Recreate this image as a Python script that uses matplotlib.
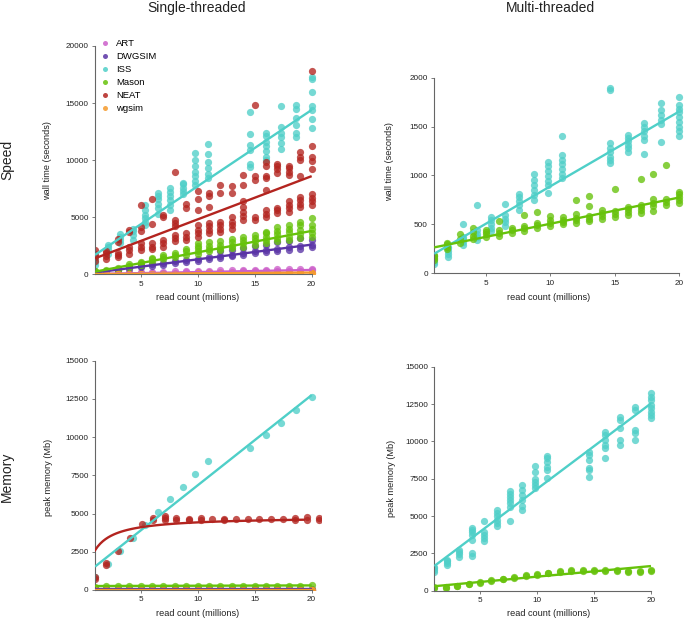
import numpy as np
import matplotlib
matplotlib.use('Agg')
import matplotlib.pyplot as plt
from matplotlib.lines import Line2D

plt.rcParams['font.family'] = ['Liberation Sans', 'DejaVu Sans']

# ---- data ----
tools = ['ART', 'DWGSIM', 'ISS', 'Mason', 'NEAT', 'wgsim']
colors = {'ART': '#cc5fca', 'DWGSIM': '#5a34a6', 'ISS': '#4fcfc8',
          'Mason': '#66c20a', 'NEAT': '#b3241f', 'wgsim': '#f59a2c'}

x_int = list(range(1, 21))
x_iss = [1.0, 2.1, 3.2, 4.3, 5.4, 6.5, 7.6, 8.7, 9.8, 10.9, 14.6, 16.0, 17.3, 18.6, 20.0]
x_neat_mem = [1, 2, 3, 4.1, 5.1, 6.1, 7.1, 8.1, 9.2, 10.3, 11.3, 12.3, 13.4, 14.4,
              15.4, 16.4, 17.5, 18.5, 19.6, 20.6]

# single-threaded wall time (seconds)
st_speed_art = [[20, 60], [40, 100], [60, 130], [80, 150], [100, 180], [120, 200],
                [130, 220], [150, 250], [160, 270], [180, 300], [200, 320], [220, 340],
                [230, 360], [250, 380], [260, 400], [280, 420], [300, 440], [310, 460],
                [330, 480], [350, 500]]
st_speed_dwgsim = [[100, 150], [250, 300], [350, 450], [500, 600], [600, 750], [750, 900],
                   [850, 1000], [1000, 1150], [1100, 1250], [1200, 1350], [1350, 1500],
                   [1450, 1600, 2000], [1600, 1700, 2100], [1700, 1850, 2300],
                   [1850, 2000, 2500], [1950, 2100, 2600], [2050, 2200, 2800],
                   [2150, 2350, 2900], [2250, 2450, 3200], [2400, 2600, 3000]]
st_speed_iss = [[800, 1100, 1300, 1600], [1800, 2100, 2400, 2600], [2700, 3000, 3300, 3500],
                [3000, 3400, 3800, 4000], [4300, 4600, 4900, 5200, 5600, 6100],
                [5300, 5800, 6200, 6600, 6900, 7100], [5600, 6100, 6500, 6900, 7200, 7600],
                [7000, 7300, 7600, 7900, 8000], [7800, 8200, 8600, 9000, 9500, 10000, 10600],
                [8400, 8800, 9300, 9800, 10500, 11400], [9400, 9700, 10900, 11300, 12300, 14200],
                [10000, 10300, 10800, 11200, 11600, 12100, 12400],
                [11000, 11500, 12000, 12400, 12900, 14700],
                [12000, 12400, 13100, 13700, 14500, 14850],
                [12800, 13600, 14400, 14700, 16000, 17100, 17300]]
st_speed_mason = [[150, 250, 300], [300, 400], [400, 550], [600, 700, 900], [800, 1000, 1100],
                  [1100, 1300, 1400], [1300, 1500, 1700], [1500, 1700, 1900],
                  [1700, 2000, 2200], [1800, 2000, 2300, 2500, 2700], [2000, 2200, 2500, 2800],
                  [2100, 2300, 2600, 2900], [2300, 2500, 2800, 3100], [2400, 2700, 3000, 3300],
                  [2600, 2900, 3200, 3400], [2700, 3000, 3300, 3600, 3700],
                  [2900, 3200, 3500, 3800, 4100], [3000, 3300, 3700, 4000, 4300],
                  [3200, 3500, 3900, 4300, 4600], [3300, 3600, 4000, 4300, 4900]]
st_speed_neat = [[1200, 1500, 1800, 2100], [1300, 1600, 1900, 2000],
                 [1500, 1700, 1900, 2800, 3100], [1800, 2100, 2400, 3700, 3900],
                 [2100, 2400, 2700, 3800, 4100, 6100], [2200, 2400, 2700, 4400, 6600],
                 [2400, 2700, 3000, 5000, 5200], [2900, 3200, 3400, 4200, 4500, 4800, 9000],
                 [3000, 3300, 3600, 5800, 6200], [3300, 3600, 3900, 4300, 5600, 6600, 7300],
                 [3600, 3900, 4200, 4500, 5900, 6900, 7100], [3700, 4000, 4300, 4600, 7100, 7800],
                 [4000, 4300, 4600, 5000, 7100, 7700],
                 [4800, 5100, 5500, 5900, 6400, 7800, 8700], [4800, 5000, 8300, 8600, 14800],
                 [5000, 5300, 5600, 7400, 8400, 8600, 9500, 9800],
                 [5400, 5600, 5800, 8900, 9200, 9500, 9700],
                 [5500, 5800, 6100, 6400, 8700, 9000, 9300, 9500],
                 [5900, 6200, 6500, 6800, 8600, 10000, 10300, 10700],
                 [6100, 6400, 6700, 7000, 9200, 9900, 10300, 11200, 17800]]
st_speed_wgsim = [[10, 30], [15, 35], [20, 40], [25, 45], [30, 50], [35, 55], [40, 60],
                  [45, 65], [50, 70], [55, 75], [60, 80], [65, 85], [70, 90], [75, 95],
                  [80, 100], [85, 110], [90, 120], [95, 130], [100, 140], [110, 150]]

# multi-threaded wall time (seconds)
mt_speed_iss = [[100, 120, 150, 180], [170, 200, 230, 260, 270], [290, 320, 350, 370, 500],
                [340, 370, 400, 440, 700], [430, 460, 500, 540, 580],
                [480, 520, 560, 600, 710], [650, 700, 740, 780, 810],
                [750, 800, 850, 900, 950, 1020], [820, 900, 940, 990, 1050, 1100, 1140],
                [970, 1020, 1070, 1120, 1160, 1210, 1400],
                [1130, 1160, 1190, 1240, 1280, 1330, 1870, 1890],
                [1240, 1280, 1310, 1350, 1380, 1410], [1220, 1360, 1400, 1450, 1500, 1540],
                [1345, 1530, 1570, 1620, 1670, 1745],
                [1400, 1450, 1500, 1550, 1600, 1650, 1680, 1720, 1800]]
mt_speed_mason = [[140, 160, 180, 190], [250, 270, 300, 310], [310, 350, 400],
                  [350, 380, 420, 460], [370, 400, 420, 440], [380, 410, 440, 530],
                  [410, 440, 460], [430, 460, 480, 600], [460, 490, 510, 630],
                  [480, 510, 540, 590], [500, 520, 550, 580], [510, 540, 570, 610, 750],
                  [530, 560, 590, 690, 790], [560, 590, 620, 650], [580, 610, 640, 860],
                  [600, 630, 660, 680], [620, 650, 680, 700, 960], [640, 690, 720, 760, 1015],
                  [700, 730, 760, 1110], [720, 750, 780, 810, 830]]

# single-threaded peak memory (Mb)
st_mem_art = [[5, 20]] * 20
st_mem_dwgsim = [[30, 40]] * 20
st_mem_iss = [[850], [1700], [2550], [3400], [4250], [5080], [5930], [6760], [7590], [8440],
              [9270], [10120], [10940], [11770], [12640]]
st_mem_mason = [[220], [230], [230], [240], [240], [240], [240], [250], [250], [250],
                [250], [260], [260], [260], [270], [270], [280], [280], [290], [300]]
st_mem_neat = [[700, 850], [1650, 1750], [2570], [3420], [4290], [4600, 4700],
               [4550, 4700, 4850], [4550, 4700], [4600, 4650], [4600, 4700], [4640],
               [4600, 4650], [4620], [4620], [4620], [4620], [4620], [4600, 4700],
               [4600, 4800], [4550, 4700]]
st_mem_wgsim = [[5, 10]] * 20

# multi-threaded peak memory (Mb)
mt_mem_iss = [[1270, 1400, 1550, 1600], [1720, 1850, 1980, 2050], [2280, 2450, 2600, 2720],
              [2350, 2500, 3400, 3700, 3900, 4050, 4200], [3300, 3500, 3700, 3950, 4670],
              [4300, 4550, 4750, 5000, 5200, 5400], [4700, 5600, 5850, 6100, 6300, 6500, 6670],
              [5400, 5700, 6100, 6400, 6750, 7100], [6850, 7100, 7300, 7500, 7950, 8350],
              [7520, 8080, 8300, 8640, 8860, 9020], [7630, 8080, 8190, 8750, 9080, 9310],
              [8860, 9530, 9750, 10090, 10420, 10650], [9750, 10090, 10870, 11430, 11600],
              [10090, 10540, 10760, 12100, 12320],
              [11540, 11760, 11990, 12210, 12430, 12770, 12990, 13260]]
mt_mem_mason = [[180, 220], [200, 240], [290, 320], [430, 470], [540, 580], [680, 720],
                [760, 800], [860, 900], [980, 1020], [1080, 1120], [1160, 1200],
                [1260, 1320], [1320, 1370], [1340, 1400], [1340, 1400], [1320, 1380],
                [1300, 1360], [1240, 1310], [1260, 1330], [1300, 1380]]

# trend lines: value at read count 1 and at 20
st_speed_trend = {'ART': (30, 380), 'DWGSIM': (150, 2600), 'ISS': (1700, 14400),
                  'Mason': (230, 3800), 'NEAT': (1400, 8600), 'wgsim': (20, 150)}
mt_speed_trend = {'ISS': (200, 1655), 'Mason': (265, 775)}
st_mem_trend = {'ART': (10, 10), 'DWGSIM': (40, 40), 'ISS': (1530, 12750),
                'Mason': (260, 300), 'wgsim': (5, 5)}
mt_mem_trend = {'ISS': (1650, 12540), 'Mason': (300, 1650)}
# NEAT memory saturating fit: vmax * x / (k + x)
neat_mem_vmax, neat_mem_k, neat_mem_xmax = 4800, 0.85, 19.3


def flat(xs, groups):
    px, py = [], []
    for x, g in zip(xs, groups):
        px += [x] * len(g)
        py += list(g)
    return px, py


def style(ax, ymax, yticks):
    ax.set_xlim(1, 20.8)
    ax.set_ylim(0, ymax)
    ax.set_xticks([5, 10, 15, 20])
    ax.set_yticks(yticks)
    ax.set_yticklabels([str(t) for t in yticks])
    for s in ['top', 'right']:
        ax.spines[s].set_visible(False)
    for s in ['left', 'bottom']:
        ax.spines[s].set_color('#666666')
        ax.spines[s].set_linewidth(0.8)
    ax.spines['bottom'].set_bounds(1, 20)
    ax.spines['left'].set_bounds(0, ymax)
    ax.tick_params(labelsize=5.9, length=2.5, width=0.6, pad=2,
                   color='#666666', labelcolor='#222222')


def draw(ax, series, trends):
    for name, xs, groups in series:
        px, py = flat(xs, groups)
        ax.scatter(px, py, s=27, color=colors[name], alpha=0.78, linewidths=0, zorder=2)
    xx = np.linspace(1, 20, 50)
    for name in tools:
        if name in trends:
            a, b = trends[name]
            ax.plot(xx, a + (b - a) * (xx - 1) / 19, color=colors[name], lw=1.7,
                    solid_capstyle='butt', zorder=3)


W, H = 685, 619
fig = plt.figure(figsize=(W / 100, H / 100), dpi=100)


def box(x0, x1, ytop, ybot):
    return [x0 / W, 1 - ybot / H, (x1 - x0) / W, (ybot - ytop) / H]


ax_tl = fig.add_axes(box(95, 320.8, 46, 274.3))
ax_tr = fig.add_axes(box(434.2, 689.6, 77.7, 273.3))
ax_bl = fig.add_axes(box(95, 320.8, 360.7, 590))
ax_br = fig.add_axes(box(434.3, 660.1, 366.7, 590.7))

draw(ax_tl, [('ART', x_int, st_speed_art), ('DWGSIM', x_int, st_speed_dwgsim),
             ('ISS', x_iss, st_speed_iss), ('Mason', x_int, st_speed_mason),
             ('NEAT', x_int, st_speed_neat), ('wgsim', x_int, st_speed_wgsim)],
     st_speed_trend)
draw(ax_tr, [('ISS', x_iss, mt_speed_iss), ('Mason', x_int, mt_speed_mason)],
     mt_speed_trend)
draw(ax_bl, [('ART', x_int, st_mem_art), ('DWGSIM', x_int, st_mem_dwgsim),
             ('ISS', x_iss, st_mem_iss), ('Mason', x_int, st_mem_mason),
             ('NEAT', x_neat_mem, st_mem_neat), ('wgsim', x_int, st_mem_wgsim)],
     st_mem_trend)
xn = np.linspace(1, neat_mem_xmax, 80)
ax_bl.plot(xn, neat_mem_vmax * xn / (neat_mem_k + xn), color=colors['NEAT'], lw=1.7, zorder=3)
draw(ax_br, [('ISS', x_iss, mt_mem_iss), ('Mason', x_int, mt_mem_mason)], mt_mem_trend)

style(ax_tl, 20000, [0, 5000, 10000, 15000, 20000])
style(ax_tr, 2000, [0, 500, 1000, 1500, 2000])
style(ax_bl, 15000, [0, 2500, 5000, 7500, 10000, 12500, 15000])
style(ax_br, 15000, [0, 2500, 5000, 7500, 10000, 12500, 15000])

handles = [Line2D([], [], ls='', marker='o', ms=3.6, color=colors[t], alpha=0.85,
                  markeredgewidth=0) for t in tools]
ax_tl.legend(handles, tools, loc='upper left', bbox_to_anchor=(102 / W, 1 - 39 / H),
             bbox_transform=fig.transFigure, frameon=False, fontsize=6.8,
             handlelength=0.6, handletextpad=0.9, labelspacing=0.42, borderpad=0,
             borderaxespad=0)

# labels
tc = '#222222'
fig.text(197 / W, 1 - 8 / H, 'Single-threaded', ha='center', va='center', fontsize=10, color=tc)
fig.text(550 / W, 1 - 8 / H, 'Multi-threaded', ha='center', va='center', fontsize=10, color=tc)
fig.text(7 / W, 1 - 160 / H, 'Speed', ha='center', va='center', rotation=90, fontsize=10, color=tc)
fig.text(7 / W, 1 - 477 / H, 'Memory', ha='center', va='center', rotation=90, fontsize=10, color=tc)
for x, y, t in [(48, 161, 'wall time (seconds)'), (390, 162, 'wall time (seconds)'),
                (49, 477, 'peak memory (Mb)'), (392, 478, 'peak memory (Mb)')]:
    fig.text(x / W, 1 - y / H, t, ha='center', va='center', rotation=90, fontsize=6.6, color=tc)
for x, y in [(198, 298), (549, 298), (198, 613), (549, 613)]:
    fig.text(x / W, 1 - y / H, 'read count (millions)', ha='center', va='center',
             fontsize=6.6, color=tc)

fig.savefig('out.png', dpi=100)
